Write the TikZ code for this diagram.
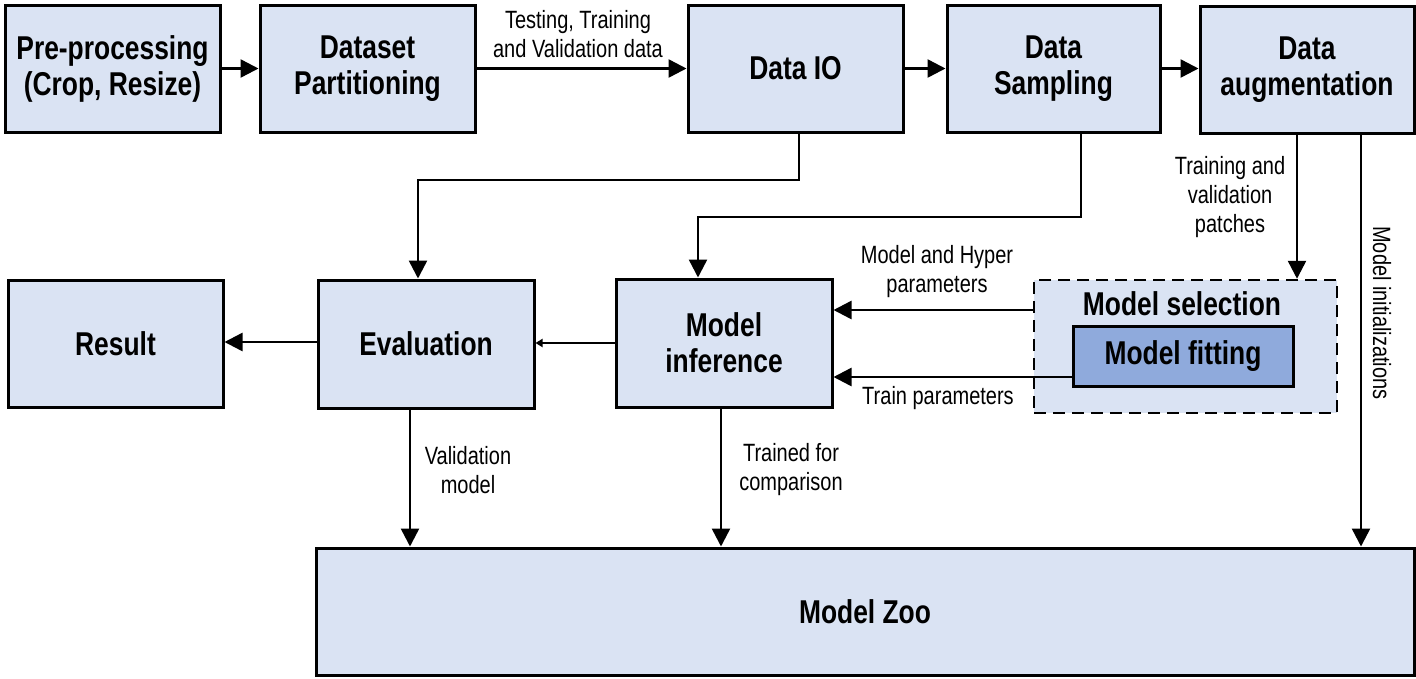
\documentclass[tikz,border=0pt]{standalone}
\usepackage{fontspec}
\setmainfont{Liberation Sans}[FakeStretch=0.8]
\usetikzlibrary{arrows.meta,calc}
\definecolor{boxfill}{HTML}{DAE3F3}
\definecolor{fitfill}{HTML}{8FAADC}
\begin{document}
\begin{tikzpicture}[x=1pt,y=-1pt,
  box/.style={draw, line width=3pt, fill=boxfill, minimum width=215pt, minimum height=127pt,
    inner sep=0pt, align=center, font=\fontsize{33}{36}\selectfont\bfseries},
  lbl/.style={font=\fontsize{25}{29}\selectfont, align=center, inner sep=0pt},
  conn/.style={line width=2.5pt},
  arr/.style={conn, -{Triangle[length=18pt,width=18pt]}},
  arrsmall/.style={conn, -{Triangle[length=7pt,width=8pt]}}]
\useasboundingbox (0,0) rectangle (1416,678);
% nodes
\node[box] (pre) at (112.5,68.5) {Pre-processing\\(Crop, Resize)};
\node[box] (dp) at (367.5,68.5) {Dataset\\Partitioning};
\node[box] (io) at (795.5,68.5) {Data IO};
\node[box, minimum width=213pt] (samp) at (1053.5,68.5) {Data\\Sampling};
\node[box, minimum width=214pt] (aug) at (1307,70) {Data\\augmentation};
\node[box] (res) at (115.5,343.5) {Result};
\node[box, minimum width=216pt, minimum height=128pt] (eval) at (426,344) {Evaluation};
\node[box, minimum width=216pt, minimum height=128pt] (inf) at (724,343) {Model\\inference};
\node[draw, line width=2.5pt, dash pattern=on 12pt off 7pt, fill=boxfill, minimum width=303pt,
  minimum height=133pt, inner sep=0pt] (sel) at (1185.5,346.5) {};
\node[inner sep=0pt, font=\fontsize{33}{36}\selectfont\bfseries] (seltxt) at (1182,304) {Model selection};
\node[box, fill=fitfill, minimum width=220pt, minimum height=60pt] (fit) at (1183,356) {Model fitting};
\node[box, minimum width=1098pt] (zoo) at (865,611.5) {Model Zoo};
% helper coordinates
\coordinate (j1) at (799,180); \coordinate (j2) at (418,180);
\coordinate (k1) at (1081,217); \coordinate (k2) at (698,217);
\coordinate (xa) at (1297,0); \coordinate (xm) at (1361,0);
\coordinate (xv) at (410,0); \coordinate (xc) at (721,0);
\coordinate (yh) at (0,310); \coordinate (yt) at (0,377);
\coordinate (ye) at (0,343); \coordinate (yr) at (0,342);
% connectors
\draw[arr] (pre) -- (dp);
\draw[arr] (dp) -- (io);
\draw[arr] (io) -- (samp);
\draw[arr] (samp.east) -- (samp.east -| aug.west);
\draw[arr] (io.south -| j1) -- (j1) -- (j2) -- (eval.north -| j2);
\draw[arr] (samp.south -| k1) -- (k1) -- (k2) -- (inf.north -| k2);
\draw[arr] (aug.south -| xa) -- (sel.north -| xa);
\draw[arr] (aug.south -| xm) -- (zoo.north -| xm);
\draw[arr] (sel.west |- yh) -- (inf.east |- yh);
\draw[arr] (fit.west |- yt) -- (inf.east |- yt);
\draw[arrsmall] (inf.west |- ye) -- (eval.east |- ye);
\draw[arr] (eval.west |- yr) -- (res.east |- yr);
\draw[arr] (eval.south -| xv) -- (zoo.north -| xv);
\draw[arr] (inf.south -| xc) -- (zoo.north -| xc);
% labels
\node[lbl] (l1) at (578,34) {Testing, Training\\and Validation data};
\node[lbl] (l2) at (937,272) {Model and Hyper\\parameters};
\node[lbl] (l3) at (938,398) {Train parameters};
\node[lbl] (l4) at (1230,197) {Training and\\validation\\patches};
\node[lbl, rotate=-90] (l5) at (1382,313) {Model initializations};
\node[lbl] (l6) at (468,470) {Validation\\model};
\node[lbl] (l7) at (791,470) {Trained for\\comparison};
\end{tikzpicture}
\end{document}
